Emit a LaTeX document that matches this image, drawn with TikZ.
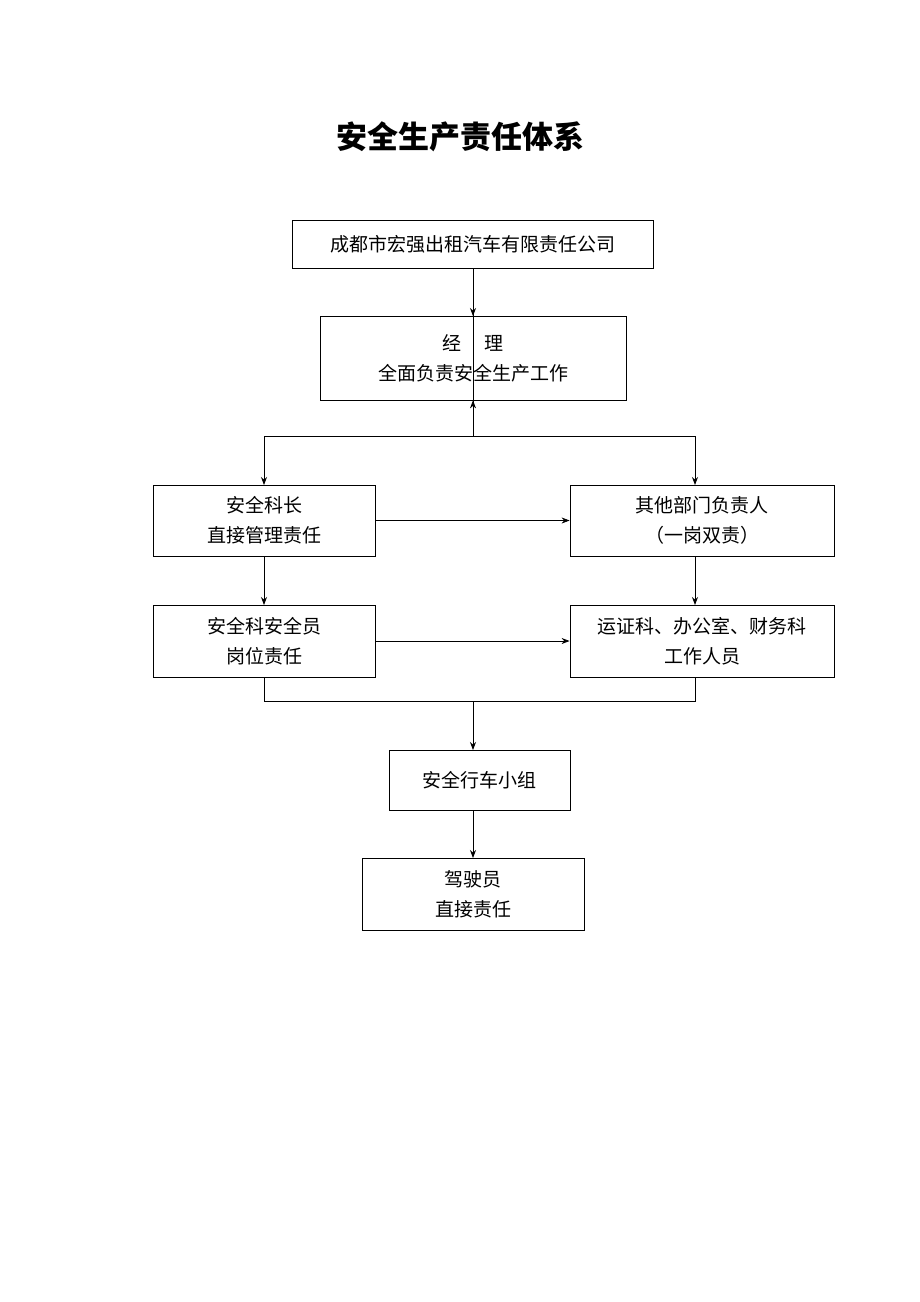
\documentclass[tikz,border=0pt]{standalone}
\usepackage{fontspec}
\setmainfont{Noto Sans CJK SC}
\usetikzlibrary{arrows.meta}
\begin{document}
\begin{tikzpicture}[x=1pt,y=-1pt,
 box/.style={draw,line width=0.8pt,inner sep=0pt,align=center,font=\fontsize{19}{30}\selectfont},
 arr/.style={line width=0.8pt,-{Stealth[length=8pt,width=6pt]}},
 ln/.style={line width=0.8pt}]
\useasboundingbox (0,0) rectangle (920,1302);
\node[font=\fontsize{31}{36}\selectfont\bfseries] (title) at (460,137) {安全生产责任体系};
\node[box,minimum width=361pt,minimum height=48pt] (co) at (472.5,244) {成都市宏强出租汽车有限责任公司};
\node[box,minimum width=306pt,minimum height=84pt] (jl) at (473,358) {经\quad\ 理\\全面负责安全生产工作};
\node[box,minimum width=222pt,minimum height=71pt] (kz) at (264,520.5) {安全科长\\直接管理责任};
\node[box,minimum width=264pt,minimum height=71pt] (qt) at (702,520.5) {其他部门负责人\\（一岗双责）};
\node[box,minimum width=222pt,minimum height=72pt] (aq) at (264,641) {安全科安全员\\岗位责任};
\node[box,minimum width=264pt,minimum height=72pt] (yz) at (702,641) {运证科、办公室、财务科\\工作人员};
\node[box,minimum width=181pt,minimum height=60pt] (xz) at (479.5,780) {安全行车小组};
\node[box,minimum width=222pt,minimum height=72pt] (js) at (473,894) {驾驶员\\直接责任};
\coordinate (s1) at (473,436);
\coordinate (s2) at (473,701);
\draw[arr] (co.south -| s1) -- (jl.south -| s1) ++(0,0);
\draw[arr] (473,268) -- (473,316);
\draw[ln] (jl.south -| s1) -- (s1);
\draw[arr] (s1) -| (264,485);
\draw[arr] (s1) -| (695,485);
\draw[arr] (kz.east) -- (kz.east -| qt.west);
\draw[arr] (aq.east) -- (aq.east -| yz.west);
\draw[arr] (264,556) -- (264,605);
\draw[arr] (695,556) -- (695,605);
\draw[ln] (264,677) |- (s2) -| (695,677);
\draw[arr] (s2) -- (473,750);
\draw[arr] (473,810) -- (473,858);
\end{tikzpicture}
\end{document}
